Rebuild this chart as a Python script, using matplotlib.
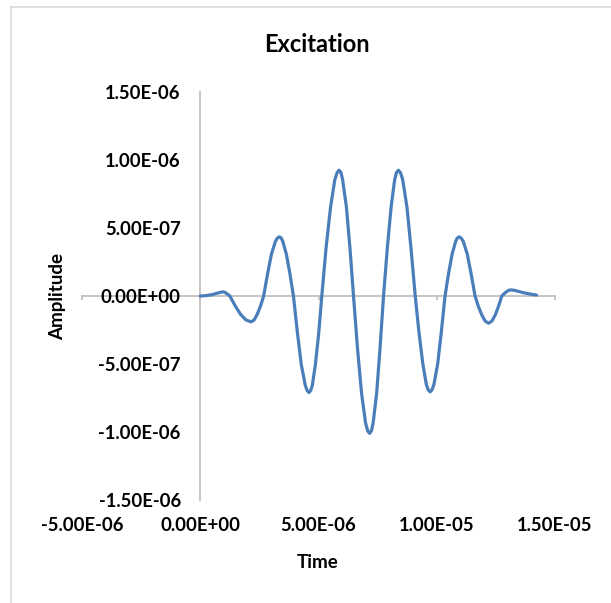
import matplotlib
matplotlib.use("Agg")
import matplotlib.pyplot as plt
from matplotlib.lines import Line2D
from matplotlib.ticker import NullFormatter

# excitation signal (time in microseconds, amplitude in 1e-7)
time_us = [0.0, 0.25, 0.5, 0.7, 0.85, 0.95, 1.03, 1.1, 1.18, 1.25,
           1.48, 1.7, 1.93, 2.15, 2.28, 2.41, 2.55, 2.68,
           2.85, 3.01, 3.18, 3.26, 3.34, 3.42, 3.49, 3.64, 3.79, 3.94,
           4.11, 4.27, 4.44, 4.52, 4.6, 4.67, 4.74, 4.87, 5.01, 5.14,
           5.32, 5.51, 5.69, 5.79, 5.87, 5.95, 6.02, 6.18, 6.33, 6.48,
           6.65, 6.82, 6.99, 7.08, 7.16, 7.24, 7.31, 7.46, 7.6, 7.75,
           7.91, 8.07, 8.22, 8.3, 8.38, 8.47, 8.56, 8.74, 8.91, 9.09,
           9.25, 9.41, 9.56, 9.64, 9.72, 9.8, 9.88, 10.04, 10.19, 10.35,
           10.5, 10.65, 10.8, 10.87, 10.95, 11.03, 11.12, 11.29, 11.45, 11.62,
           11.76, 11.91, 12.05, 12.19, 12.33, 12.47, 12.61, 12.75,
           12.85, 12.95, 13.05, 13.15, 13.3, 13.5, 13.7, 13.9, 14.05, 14.22]
amp_e7 = [0.0, 0.03, 0.1, 0.2, 0.27, 0.3, 0.28, 0.2, 0.1, 0.0,
          -0.73, -1.34, -1.76, -1.9, -1.76, -1.34, -0.73, 0.0,
          1.66, 3.08, 4.02, 4.25, 4.35, 4.27, 4.02, 3.08, 1.66, 0.0,
          -2.72, -5.02, -6.56, -6.95, -7.1, -6.95, -6.56, -5.02, -2.72, 0.0,
          3.54, 6.54, 8.55, 9.08, 9.25, 9.08, 8.55, 6.54, 3.54, 0.0,
          -3.87, -7.14, -9.33, -9.92, -10.1, -9.9, -9.33, -7.14, -3.87, 0.0,
          3.54, 6.54, 8.55, 9.08, 9.25, 9.06, 8.55, 6.54, 3.54, 0.0,
          -2.7, -4.98, -6.51, -6.9, -7.05, -6.9, -6.51, -4.98, -2.7, 0.0,
          1.66, 3.08, 4.02, 4.27, 4.35, 4.26, 4.02, 3.08, 1.66, 0.0,
          -0.77, -1.41, -1.85, -2.0, -1.85, -1.41, -0.77, 0.0,
          0.17, 0.32, 0.42, 0.45, 0.41, 0.32, 0.23, 0.16, 0.11, 0.07]

x_ticks = [-5e-6, 0.0, 5e-6, 1e-5, 1.5e-5]
y_ticks = [-1.5e-6, -1e-6, -5e-7, 0.0, 5e-7, 1e-6, 1.5e-6]

t = [v * 1e-6 for v in time_us]
a = [v * 1e-7 for v in amp_e7]

plt.rcParams["font.family"] = ["Lato", "DejaVu Sans"]
plt.rcParams["font.weight"] = "bold"

W, H = 611, 603
fig = plt.figure(figsize=(W / 100, H / 100), dpi=100)
ax = fig.add_axes([82 / W, (H - 500) / H, (555 - 82) / W, (500 - 92) / H])

grey = "#c0c0c0"
ax.plot(t, a, color="#4a7ebb", lw=2.3, solid_joinstyle="round",
        solid_capstyle="round", zorder=3)

ax.set_xlim(x_ticks[0], x_ticks[-1])
ax.set_ylim(y_ticks[0], y_ticks[-1])
ax.set_xticks(x_ticks)
ax.set_yticks(y_ticks)
ax.set_xticklabels([f"{v:.2E}" for v in x_ticks])
ax.set_yticklabels([f"{v:.2E}" for v in y_ticks])

for s in ["top", "right", "bottom"]:
    ax.spines[s].set_visible(False)
ax.spines["left"].set_position(("data", 0))
ax.spines["left"].set_color(grey)
ax.spines["left"].set_linewidth(1.3)
ax.tick_params(axis="y", length=0, pad=14, labelsize=13.3, labelcolor="black")
ax.tick_params(axis="x", length=0, pad=12, labelsize=13.3, labelcolor="black")

# horizontal axis line crossing at zero with small downward ticks
sec = ax.secondary_xaxis(0.5)
sec.set_xticks(x_ticks)
sec.xaxis.set_major_formatter(NullFormatter())
sec.tick_params(axis="x", direction="in", length=3, width=1.3, color=grey,
                labeltop=False, labelbottom=False)
for sp in sec.spines.values():
    sp.set_color(grey)
    sp.set_linewidth(1.3)

fig.text(317 / W, 1 - 44 / H, "Excitation", ha="center", va="center",
         fontsize=17, fontweight="bold")
fig.text(318 / W, 1 - 562 / H, "Time", ha="center", va="center",
         fontsize=13.5, fontweight="bold")
fig.text(58 / W, 1 - 296 / H, "Amplitude", ha="center", va="center",
         rotation=90, fontsize=13.5, fontweight="bold")

# chart frame (only top and left edges visible)
fig.add_artist(Line2D([11 / W, 1], [1 - 7 / H, 1 - 7 / H], color="#d9d9d9",
                      lw=1.2, transform=fig.transFigure))
fig.add_artist(Line2D([11 / W, 11 / W], [0, 1 - 7 / H], color="#d9d9d9",
                      lw=1.2, transform=fig.transFigure))

fig.savefig("out.png", dpi=100)
